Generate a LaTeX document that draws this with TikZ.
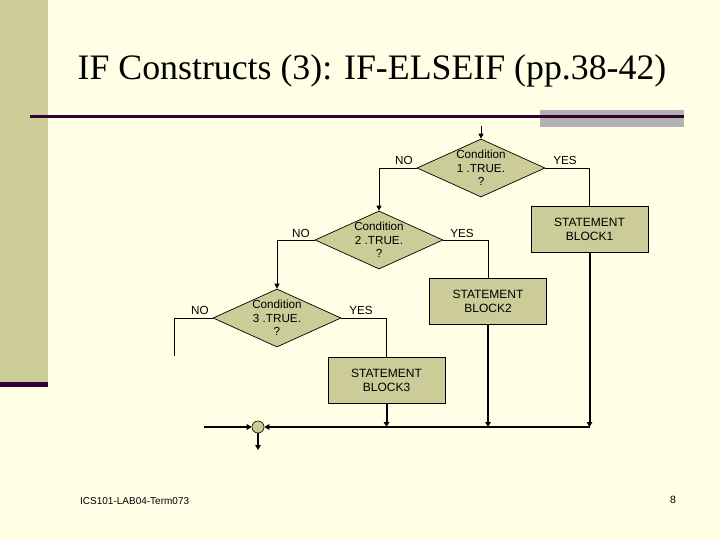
\documentclass[tikz,border=0pt]{standalone}
\usepackage{fontspec}
\setmainfont{Liberation Serif}
\setsansfont{Liberation Sans}
\usetikzlibrary{shapes.geometric,arrows.meta}
\definecolor{bg}{RGB}{255,255,229}
\definecolor{khaki}{RGB}{204,204,153}
\definecolor{plum}{RGB}{51,0,51}
\definecolor{grayband}{RGB}{178,178,178}
\begin{document}
\begin{tikzpicture}[x=1pt,y=-1pt,
  dec/.style={diamond, draw=black, fill=khaki, minimum width=128pt, minimum height=58pt, inner sep=0pt, line width=0.7pt},
  blk/.style={rectangle, draw=black, fill=khaki, minimum width=117pt, minimum height=46pt, inner sep=0pt, line width=0.8pt, align=center, font=\sffamily\fontsize{12}{14}\selectfont},
  dtext/.style={align=center, inner sep=0pt, font=\sffamily\fontsize{11.7}{13.7}\selectfont},
  lbl/.style={inner sep=0pt, font=\sffamily\fontsize{11.7}{13}\selectfont},
  conn/.style={line width=0.8pt},
  conna/.style={line width=0.8pt, -{Triangle[length=5pt,width=5pt]}},
  heavy/.style={line width=2pt, -{Triangle[length=5pt,width=5.5pt]}},
]
\fill[bg] (0,0) rectangle (720,540);
\useasboundingbox (0,0) rectangle (720,540);
% decorations
\fill[khaki] (0,0) rectangle (48,382);
\fill[plum] (0,382) rectangle (48,387);
\fill[grayband] (540,110) rectangle (684,127);
\fill[plum] (30,115.5) rectangle (684,118.5);
\node[anchor=base, inner sep=0pt, font=\fontsize{35.8}{40}\selectfont] (title) at (372,80) {IF Constructs (3): IF-ELSEIF (pp.38-42)};
% diamonds
\node[dec] (d1) at (481,168) {};
\node[dtext] (t1) at (d1) {Condition\\1 .TRUE.\\?};
\node[dec] (d2) at (379,240) {};
\node[dtext] (t2) at (d2) {Condition\\2 .TRUE.\\?};
\node[dec] (d3) at (277,318) {};
\node[dtext] (t3) at (d3) {Condition\\3 .TRUE.\\?};
% blocks
\node[blk] (b1) at (589.5,229.5) {STATEMENT\\BLOCK1};
\node[blk] (b2) at (488,301) {STATEMENT\\BLOCK2};
\node[blk] (b3) at (386.5,380.5) {STATEMENT\\BLOCK3};
% labels
\node[lbl] (no1) at (404,160) {NO};
\node[lbl] (yes1) at (565,160) {YES};
\node[lbl] (no2) at (301,233) {NO};
\node[lbl] (yes2) at (462,233) {YES};
\node[lbl] (no3) at (200,310) {NO};
\node[lbl] (yes3) at (361,310) {YES};
% merge point
\node[circle, draw=black, fill=khaki, minimum size=12pt, inner sep=0pt, line width=0.6pt] (m) at (258,427) {};
\coordinate (top) at (481,126);
\coordinate (no3end) at (174,356);
\coordinate (e1) at (589.5,427);
\coordinate (inl) at (204,427);
\coordinate (out) at (258,450);
% connectors
\draw[conna] (top) -- (d1.north);
\draw[conna] (d1.west) -| (d2.north);
\draw[conn] (d1.east) -| (b1.north);
\draw[conna] (d2.west) -| (d3.north);
\draw[conn] (d2.east) -| (b2.north);
\draw[conn] (d3.east) -| (b3.north);
\draw[conn] (d3.west) -| (no3end);
\draw[heavy] (b1.south) -- (e1);
\draw[heavy] (b2.south) -- (b2.south |- e1);
\draw[heavy] (b3.south) -- (b3.south |- e1);
\draw[heavy] (e1) -- (m.east);
\draw[heavy] (inl) -- (m.west);
\draw[heavy] (m.south) -- (out);
% footer
\node[anchor=west, inner sep=0pt, font=\sffamily\fontsize{10}{12}\selectfont] (foot) at (80,501) {ICS101-LAB04-Term073};
\node[inner sep=0pt, font=\sffamily\fontsize{10.5}{12}\selectfont] (pg) at (673,500) {8};
\end{tikzpicture}
\end{document}
